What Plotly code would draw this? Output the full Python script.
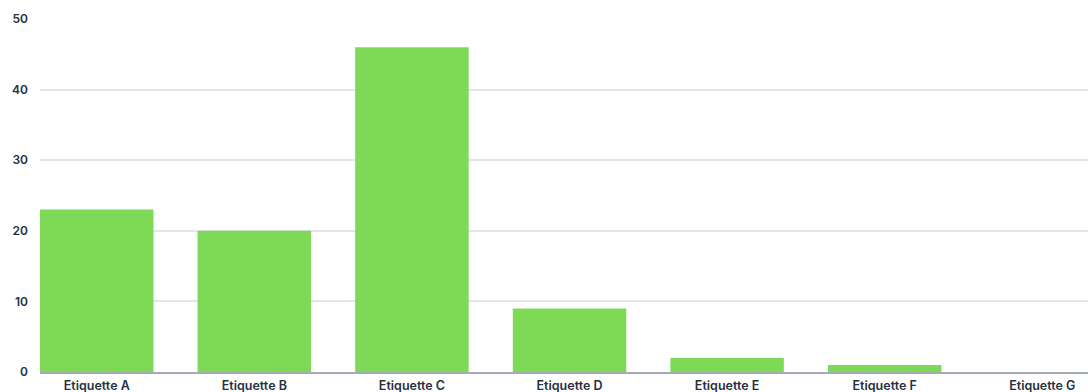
import plotly.graph_objects as go

categories = ["Etiquette A", "Etiquette B", "Etiquette C", "Etiquette D", "Etiquette E", "Etiquette F", "Etiquette G"]
values = [23, 20, 46, 9, 2, 1, 0]
y_ticks = [0, 10, 20, 30, 40, 50]

fig = go.Figure(go.Bar(
    x=categories, y=values,
    marker=dict(color="#7ed957", line=dict(width=0)),
))

fig.update_layout(
    width=1088, height=392,
    margin=dict(l=40, r=0, t=19, b=20),
    paper_bgcolor="white", plot_bgcolor="white",
    bargap=0.28,
    showlegend=False,
    font=dict(family="Inter", size=12, color="#253041", weight=600),
)
fig.update_xaxes(
    range=[-0.36, 6.29], showgrid=False, automargin=False,
    showline=True, linecolor="#a3acb6", linewidth=1.5,
    ticks="", ticklabelstandoff=1,
    tickfont=dict(family="Inter", size=12.5, color="#253041", weight=600),
)
fig.update_yaxes(
    range=[0, 50], tickvals=y_ticks, automargin=False,
    showgrid=True, gridcolor="#e3e5e8", gridwidth=1.5,
    zeroline=False, ticks="", ticklabelstandoff=11,
    tickfont=dict(family="Inter", size=12, color="#253041", weight=600),
)

fig.write_html("out.html")
